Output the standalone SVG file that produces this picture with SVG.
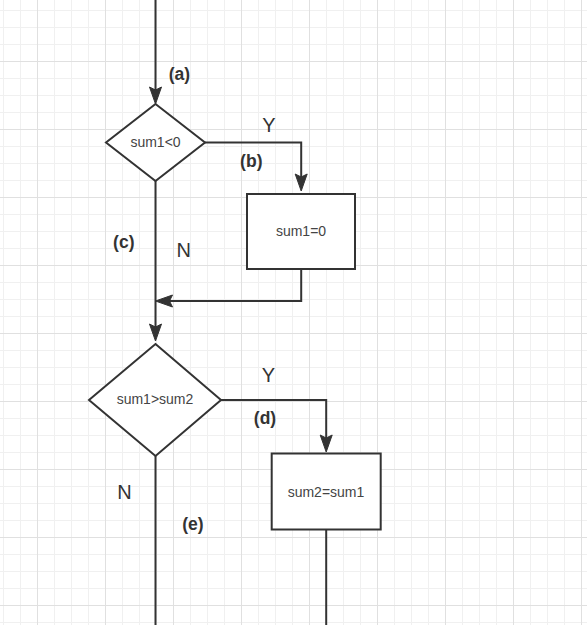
<svg xmlns="http://www.w3.org/2000/svg" width="587" height="625" viewBox="0 0 587 625">
<style>
.ln{fill:none;stroke:#333333;stroke-width:2}
.shape{fill:#ffffff;stroke:#333333;stroke-width:2}
.nt{font-family:"Liberation Sans",Arial,sans-serif;font-size:14px;fill:#444444;text-anchor:middle}
.yn{font-family:"Liberation Sans",Arial,sans-serif;font-size:20px;fill:#333333;text-anchor:middle}
.lb{font-family:"Liberation Sans",Arial,sans-serif;font-size:17.5px;font-weight:bold;fill:#333333;text-anchor:middle}
</style>
<defs>
<pattern id="grid" patternUnits="userSpaceOnUse" x="37" y="61" width="68" height="68">
<path d="M17.5,0V68M34.5,0V68M51.5,0V68M0,17.5H68M0,34.5H68M0,51.5H68" stroke="#f0f0f0" stroke-width="1" fill="none"/>
<path d="M0.5,0V68M0,0.5H68" stroke="#e0e0e0" stroke-width="1" fill="none"/>
</pattern>
<marker id="arr" markerUnits="userSpaceOnUse" markerWidth="18" markerHeight="14" refX="13" refY="6" orient="auto" overflow="visible">
<path d="M0,0 L17,6 L0,12 L3,6 Z" fill="#333333" stroke="#333333" stroke-width="1"/>
</marker>
</defs>
<rect width="587" height="625" fill="#ffffff"/>
<rect width="587" height="625" fill="url(#grid)"/>

<g id="connectors">
<path class="ln" d="M155.5,0 V100" marker-end="url(#arr)"/>
<path class="ln" d="M205,142.5 H301.2 V187" marker-end="url(#arr)"/>
<path class="ln" d="M155.5,181 V337" marker-end="url(#arr)"/>
<path class="ln" d="M301.2,269 V301 H159.5" marker-end="url(#arr)"/>
<path class="ln" d="M221,400 H326.2 V448" marker-end="url(#arr)"/>
<path class="ln" d="M155.5,456 V625"/>
<path class="ln" d="M326.2,530 V625"/>
</g>

<g id="d1">
<polygon class="shape" points="155.5,104 205,142.5 155.5,181 106,142.5"/>
<text class="nt" x="155.5" y="147.3">sum1&lt;0</text>
</g>
<g id="b1">
<rect class="shape" x="247" y="194" width="108" height="75"/>
<text class="nt" x="301" y="235.7">sum1=0</text>
</g>
<g id="d2">
<polygon class="shape" points="155.5,344 221,400 155.5,456 89,400"/>
<text class="nt" x="155" y="404">sum1&gt;sum2</text>
</g>
<g id="b2">
<rect class="shape" x="271.7" y="453.5" width="109" height="76"/>
<text class="nt" x="326" y="496.5">sum2=sum1</text>
</g>

<g id="labels">
<text class="lb" x="179.5" y="80.4">(a)</text>
<text class="yn" x="269" y="132">Y</text>
<text class="lb" x="251.3" y="167.2">(b)</text>
<text class="lb" x="123.8" y="248">(c)</text>
<text class="yn" x="183.7" y="256.7">N</text>
<text class="yn" x="268.3" y="381.7">Y</text>
<text class="lb" x="265" y="423.5">(d)</text>
<text class="yn" x="124.5" y="499.3">N</text>
<text class="lb" x="193" y="530.2">(e)</text>
</g>
</svg>
